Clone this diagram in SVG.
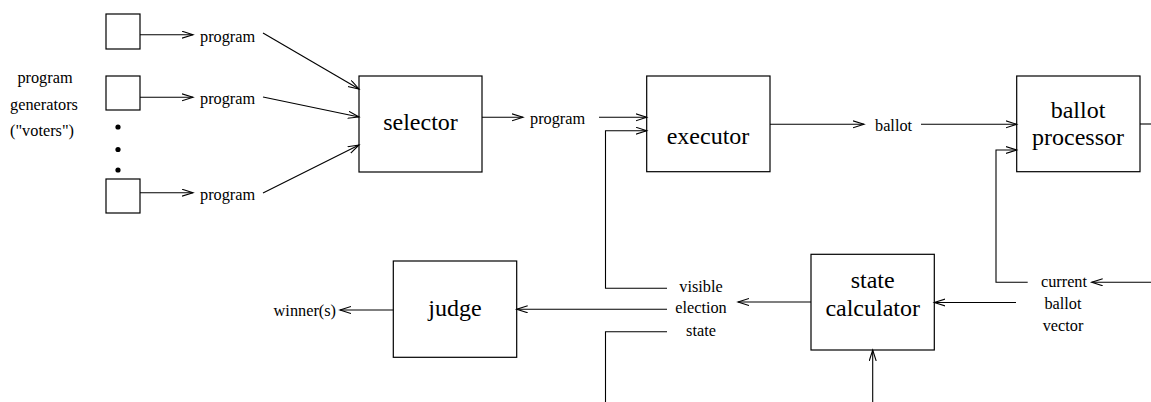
<svg xmlns="http://www.w3.org/2000/svg" width="1151" height="402" viewBox="0 0 1151 402">
<style>
.box{fill:#fff;stroke:#000;stroke-width:1.2}
.node{font-family:"Liberation Serif","Times New Roman",serif;font-size:24px;fill:#000;text-anchor:middle}
.lbl{font-family:"Liberation Serif","Times New Roman",serif;font-size:16.3px;fill:#000}
.c{text-anchor:middle}
.e{text-anchor:end}
.ln{fill:none;stroke:#000;stroke-width:1.1}
.ar{marker-end:url(#arr)}
</style>
<defs>
<marker id="arr" markerUnits="userSpaceOnUse" markerWidth="14" markerHeight="10" refX="11" refY="4" orient="auto">
<path d="M0,0.5 L11,4 L0,7.5" fill="none" stroke="#000" stroke-width="1.1"/>
</marker>
</defs>
<g id="labels">
<text class="lbl c" x="45" y="83">program</text>
<text class="lbl c" x="44" y="110">generators</text>
<text class="lbl c" x="42" y="136">("voters")</text>
<circle cx="118" cy="127" r="2.6" fill="#000"/>
<circle cx="118" cy="149.5" r="2.6" fill="#000"/>
<circle cx="118" cy="170" r="2.6" fill="#000"/>
<text class="lbl" x="200" y="42">program</text>
<text class="lbl" x="200" y="104">program</text>
<text class="lbl" x="200" y="200">program</text>
<text class="lbl" x="530" y="124">program</text>
<text class="lbl" x="875" y="131">ballot</text>
<text class="lbl e" x="336" y="316">winner(s)</text>
<text class="lbl c" x="701" y="292">visible</text>
<text class="lbl c" x="701" y="313">election</text>
<text class="lbl c" x="701" y="336">state</text>
<text class="lbl c" x="1064" y="287">current</text>
<text class="lbl c" x="1063" y="309">ballot</text>
<text class="lbl c" x="1063" y="331">vector</text>
</g>
<g id="gen1"><rect class="box" x="106" y="14" width="34" height="35"/></g>
<g id="gen2"><rect class="box" x="106" y="76" width="34" height="34"/></g>
<g id="gen3"><rect class="box" x="106" y="179" width="34" height="34"/></g>
<g id="selector"><rect class="box" x="359" y="76" width="123" height="96"/><text class="node" x="420.5" y="130">selector</text></g>
<g id="executor"><rect class="box" x="646.7" y="76" width="123.3" height="95.7"/><text class="node" x="708" y="144">executor</text></g>
<g id="ballot-processor"><rect class="box" x="1016.7" y="76" width="123.3" height="95.7"/><text class="node" x="1078" y="118">ballot</text><text class="node" x="1078" y="145">processor</text></g>
<g id="judge"><rect class="box" x="393.3" y="261" width="123.4" height="96.3"/><text class="node" x="455" y="316">judge</text></g>
<g id="state-calculator"><rect class="box" x="811" y="254.3" width="123.3" height="95.7"/><text class="node" x="872.7" y="288">state</text><text class="node" x="872.7" y="316">calculator</text></g>
<g id="connectors">
<path class="ln ar" d="M140,34.7 H193"/>
<path class="ln ar" d="M140,97.3 H193"/>
<path class="ln ar" d="M140,192.7 H193"/>
<path class="ln ar" d="M263,33 L359,89"/>
<path class="ln ar" d="M263,97 L359,117"/>
<path class="ln ar" d="M263,193 L359,145"/>
<path class="ln ar" d="M482,117.3 H523"/>
<path class="ln ar" d="M599,117.3 H646.7"/>
<path class="ln ar" d="M667,288.3 H605.5 V130.7 H646.7"/>
<path class="ln ar" d="M770,124.3 H864"/>
<path class="ln ar" d="M921,124.3 H1016.7"/>
<path class="ln" d="M1140,124 H1151"/>
<path class="ln ar" d="M1027.7,282.3 H996 V150 H1016.7"/>
<path class="ln ar" d="M1151,282.3 H1091.7"/>
<path class="ln ar" d="M1016,302.5 H934.3"/>
<path class="ln ar" d="M811,302 H738"/>
<path class="ln ar" d="M667,309.3 H516.7"/>
<path class="ln ar" d="M393.3,310 H340"/>
<path class="ln" d="M667,331.7 H605.5 V402"/>
<path class="ln ar" d="M872.7,402 V350"/>
</g>
</svg>
